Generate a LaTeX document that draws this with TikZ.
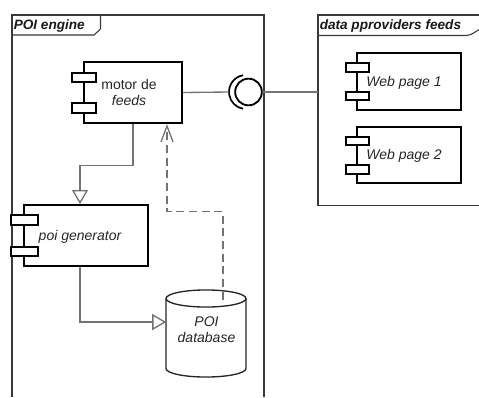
\documentclass[tikz,border=0pt]{standalone}
\usepackage{fontspec}
\setmainfont{Liberation Sans}
\usetikzlibrary{arrows.meta}
\begin{document}
\begin{tikzpicture}[x=0.75pt,y=-0.75pt,
  frameline/.style={draw=black!78, line width=0.8pt},
  comp/.style={rectangle, draw=black, line width=1.5pt, fill=white, inner sep=0pt},
  port/.style={rectangle, draw=black, line width=1.4pt, fill=white, inner sep=0pt, minimum height=7pt},
  conn/.style={draw=black!55, line width=1pt},
  depend/.style={draw=black!55, line width=1pt, dash pattern=on 6pt off 3.5pt},
  lbl/.style={font=\fontsize{10.5}{12}\selectfont, text=black!85, inner sep=0pt},
  frametitle/.style={font=\fontsize{10.2}{12}\selectfont\bfseries\itshape, text=black!90, anchor=west, inner sep=0pt},
  realize/.style={-{Triangle[open, fill=white, length=10.5pt, width=12pt]}},
  usearrow/.style={-{Straight Barb[length=12pt, width=9pt]}}
]
\useasboundingbox (0,0) rectangle (479,397);

% package frame: POI engine
\draw[frameline] (12,397) -- (12,15) -- (264,15) -- (264,397);
\draw[frameline] (12,35) -- (94,35) -- (100.5,29) -- (100.5,15);
\node[frametitle] (enginetitle) at (13.5,26) {POI engine};

% package frame: data providers
\draw[frameline] (479,15) -- (318,15) -- (318,205.5) -- (479,205.5);
\draw[frameline] (318,35.5) -- (462,35.5) .. controls (470,35.5) .. (479,29.5);
\node[frametitle] (datatitle) at (319.5,26) {data pproviders feeds};
\coordinate (dataedge) at (318,92);

% component: motor de feeds
\node[comp, minimum width=73.5pt, minimum height=45.75pt] (motor) at (133,92.5) {};
\node[port, minimum width=18pt] (motorpa) at (84,77.5) {};
\node[port, minimum width=18pt] (motorpb) at (84,108) {};
\node[lbl, align=center] (motorlbl) at (129,92) {motor de\\\itshape feeds};

% component: poi generator
\node[comp, minimum width=93pt, minimum height=45.75pt] (poigen) at (86,235.5) {};
\node[port, minimum width=20.25pt] (poigenpa) at (24.5,220) {};
\node[port, minimum width=20.25pt] (poigenpb) at (24.5,251.5) {};
\node[lbl, font=\fontsize{10.5}{12}\selectfont\itshape] (poigenlbl) at (80,237) {poi generator};

% component: Web page 1
\node[comp, minimum width=78pt, minimum height=42.75pt] (webone) at (409,81.5) {};
\node[port, minimum width=17.25pt, minimum height=6.5pt] (webonepa) at (357.5,67.5) {};
\node[port, minimum width=17.25pt, minimum height=6.5pt] (webonepb) at (357.5,96) {};
\node[lbl, font=\fontsize{10.5}{12}\selectfont\itshape] (weboneln) at (404,83) {Web page 1};

% component: Web page 2
\node[comp, minimum width=78pt, minimum height=42pt] (webtwo) at (409,155) {};
\node[port, minimum width=17.25pt, minimum height=6.5pt] (webtwopa) at (357.5,141) {};
\node[port, minimum width=17.25pt, minimum height=6.5pt] (webtwopb) at (357.5,169.5) {};
\node[lbl, font=\fontsize{10.5}{12}\selectfont\itshape] (webtwoln) at (404,155.5) {Web page 2};

% database cylinder
\node[rectangle, inner sep=0pt, minimum width=60pt, minimum height=65.25pt] (db) at (206.5,333.5) {};
\draw[black!85, line width=1pt, fill=white]
  (166,298.5) -- (166,368.5) arc (180:360:30pt and 6.4pt) -- (246,298.5);
\draw[black!85, line width=1pt] (206,298.5) ellipse (30pt and 6.4pt);
\node[lbl, align=center, font=\fontsize{10.5}{12}\selectfont\itshape] (dblbl) at (206.5,330) {POI\\database};

% provided / required interface
\coordinate (socket) at (229,92);
\draw[black, line width=1.3pt] (246,92) ++(100:12.75pt) arc (100:260:12.75pt);
\node[circle, draw=black, line width=1.4pt, fill=white, inner sep=0pt, minimum size=20pt] (ball) at (248.5,92) {};
\draw[conn] (motor.east) -- (socket);
\draw[conn] (ball.east) -- (dataedge);

% connectors
\draw[conn, realize] (motor.south) -- ++(0,41.5) -| ([xshift=-4.5pt]poigen.north);
\draw[conn, realize] ([xshift=-4.5pt]poigen.south) |- ([yshift=8.6pt]db.west);
\draw[depend, usearrow] ([xshift=12.4pt, yshift=-7.5pt]db.north) -- ++(0,-88) -| ([xshift=25.5pt]motor.south);
\end{tikzpicture}
\end{document}
